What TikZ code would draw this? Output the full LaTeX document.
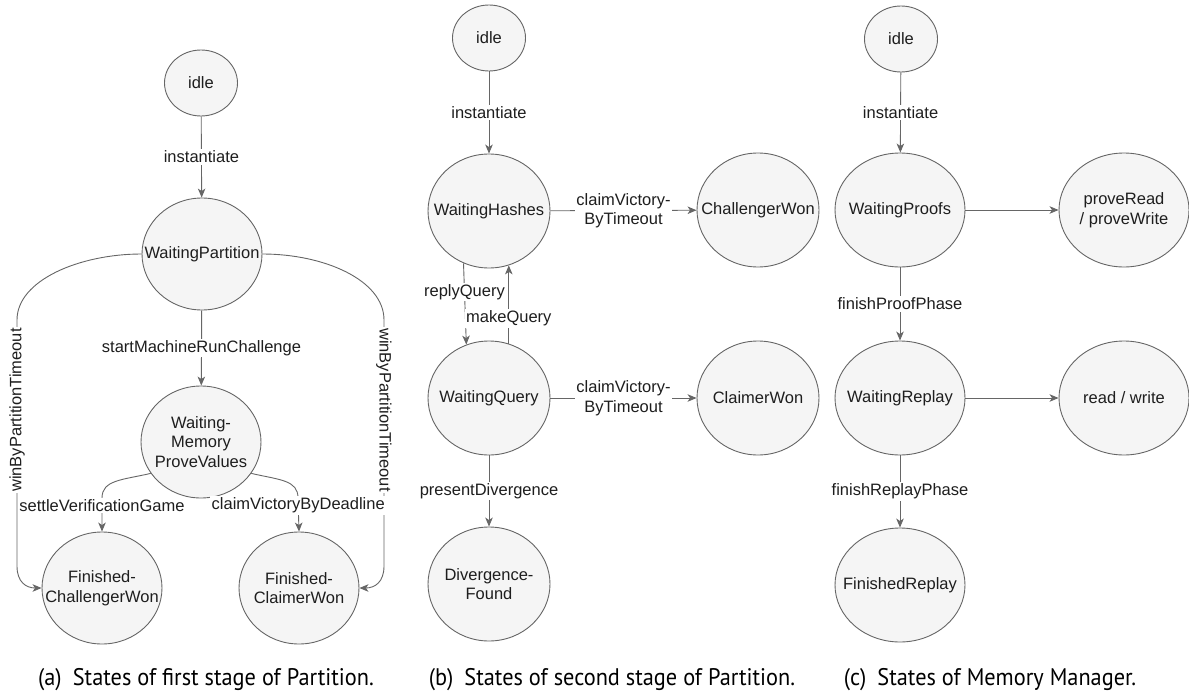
\documentclass[tikz,border=0pt]{standalone}
\usepackage{fontspec}
\setmainfont{Liberation Sans}
\newfontfamily\capfont{PT Sans}
\usetikzlibrary{shapes.geometric,arrows.meta}

\definecolor{edgegray}{HTML}{666666}
\definecolor{statefill}{HTML}{F5F5F5}
\definecolor{inkgray}{HTML}{1E1E1E}

\begin{document}
\begin{tikzpicture}[x=1pt,y=-1pt,
  statetext/.style={text=inkgray, align=center, inner sep=0pt,
    font=\fontsize{16.5}{19.5}\selectfont},
  state/.style={ellipse, draw=edgegray, fill=statefill, line width=0.9pt,
    minimum width=122pt, minimum height=114pt, inner sep=0pt,
    label={[statetext]center:#1}},
  statea/.style={state=#1, minimum width=120pt, minimum height=112pt},
  statec/.style={state=#1, minimum width=130pt, minimum height=114pt},
  smallstate/.style={state=#1, minimum width=73pt, minimum height=66pt},
  trans/.style={draw=edgegray, line width=0.9pt,
    -{Stealth[length=9pt,width=7.5pt,inset=2.5pt]}},
  lbl/.style={fill=white, inner sep=1.5pt, text=inkgray, align=center,
    font=\fontsize{16.5}{19.5}\selectfont},
  captext/.style={font=\capfont\fontsize{24}{28}\selectfont, text=black,
    anchor=base, inner sep=0pt}
]
\useasboundingbox (0,0) rectangle (1189,693);

% ---------- (a) first stage of Partition ----------
\node[smallstate=idle]                         (ia)  at (201,83)  {};
\node[statea=WaitingPartition]                 (wp)  at (202,254) {};
\node[statea={Waiting-\\Memory\\ProveValues}]  (wmp) at (201,442) {};
\node[statea={Finished-\\ChallengerWon}]       (fcw) at (102,588) {};
\node[statea={Finished-\\ClaimerWon}]          (fcl) at (299,588) {};

\draw[trans] (ia) -- node[lbl]{instantiate} (wp);
\draw[trans] (wp) -- node[lbl]{startMachineRunChallenge} (wmp);
\draw[trans] (wp.west) .. controls (80,254) and (17,280) .. (17,320)
  -- node[lbl, rotate=90]{winByPartitionTimeout} (17,500)
  -- (17,566) .. controls (17,582) and (26,588) .. (fcw.west);
\draw[trans] (wp.east) .. controls (324,254) and (384,280) .. (384,320)
  -- node[lbl, rotate=-90]{winByPartitionTimeout} (384,500)
  -- (384,566) .. controls (384,582) and (375,588) .. (fcl.east);
\draw[trans] (wmp.212) .. controls (122,480) and (102,480) .. (102,498)
  -- node[lbl, pos=0.22]{settleVerificationGame} (fcw.north);
\draw[trans] (wmp.-32) .. controls (280,480) and (298,480) .. (298,498)
  -- node[lbl, pos=0.22]{claimVictoryByDeadline} (fcl.north);

% ---------- (b) second stage of Partition ----------
\node[smallstate=idle]                    (ib)  at (489,38)  {};
\node[state=WaitingHashes]                (wh)  at (489,211) {};
\node[state=ChallengerWon]                (cw)  at (758,210) {};
\node[state=WaitingQuery]                 (wq)  at (489,398) {};
\node[state=ClaimerWon]                   (clw) at (758,398) {};
\node[state={Divergence-\\Found}]         (dvf) at (489,584) {};

\draw[trans] (ib) -- node[lbl]{instantiate} (wh);
\draw[trans] (wh) -- node[lbl]{claimVictory-\\ByTimeout} (cw);
\draw[trans] (wq) -- node[lbl]{claimVictory-\\ByTimeout} (clw);
\draw[trans] (wh.244) -- node[lbl, pos=0.35]{replyQuery} (wq.113);
\draw[trans] (wq.70) -- node[lbl, pos=0.32]{makeQuery} (wh.290);
\draw[trans] (wq) -- node[lbl]{presentDivergence} (dvf);

% ---------- (c) Memory Manager ----------
\node[smallstate=idle]                    (ic)  at (901,39)   {};
\node[statec=WaitingProofs]               (wpf) at (900,210)  {};
\node[statec={proveRead\\/ proveWrite}]   (prw) at (1124,210) {};
\node[statec=WaitingReplay]               (wr)  at (900,398)  {};
\node[statec={read / write}]              (rw)  at (1124,398) {};
\node[statec=FinishedReplay]              (fr)  at (900,585)  {};

\draw[trans] (ic) -- node[lbl]{instantiate} (wpf);
\draw[trans] (wpf) -- (prw);
\draw[trans] (wpf) -- node[lbl]{finishProofPhase} (wr);
\draw[trans] (wr) -- (rw);
\draw[trans] (wr) -- node[lbl]{finishReplayPhase} (fr);

% ---------- captions ----------
\node[captext] (capa) at (206,685) {\scalebox{0.93}[1]{(a)\enspace States of first stage of Partition.}};
\node[captext] (capb) at (612,685) {\scalebox{0.93}[1]{(b)\enspace States of second stage of Partition.}};
\node[captext] (capc) at (990,685) {\scalebox{0.93}[1]{(c)\enspace States of Memory Manager.}};
\end{tikzpicture}
\end{document}
